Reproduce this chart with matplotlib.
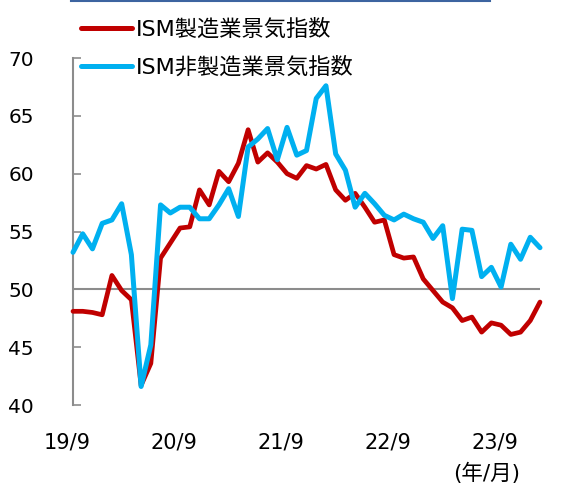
import matplotlib
matplotlib.use("Agg")
import matplotlib.pyplot as plt
from matplotlib.lines import Line2D

plt.rcParams['font.family'] = ['DejaVu Sans', 'Noto Sans CJK JP']

manufacturing = [48.1, 48.1, 48.0, 47.8, 51.2, 49.9, 49.1, 41.7, 43.6, 52.7,
                 54.0, 55.3, 55.4, 58.6, 57.3, 60.2, 59.3, 60.9, 63.8, 61.0,
                 61.8, 61.0, 60.0, 59.6, 60.7, 60.4, 60.8, 58.6, 57.7, 58.3,
                 57.1, 55.8, 56.0, 53.0, 52.7, 52.8, 50.9, 49.9, 48.9, 48.4,
                 47.3, 47.6, 46.3, 47.1, 46.9, 46.1, 46.3, 47.3, 48.9]
services = [53.2, 54.8, 53.5, 55.7, 56.0, 57.4, 53.0, 41.6, 45.2, 57.3,
            56.6, 57.1, 57.1, 56.1, 56.1, 57.3, 58.7, 56.3, 62.3, 63.0,
            63.9, 61.2, 64.0, 61.6, 62.0, 66.5, 67.6, 61.7, 60.3, 57.1,
            58.3, 57.4, 56.4, 56.0, 56.5, 56.1, 55.8, 54.4, 55.5, 49.2,
            55.2, 55.1, 51.1, 51.9, 50.2, 53.9, 52.6, 54.5, 53.6]
x_labels = ['19/9', '20/9', '21/9', '22/9', '23/9']
x_label_pos = [-0.62, 10.38, 21.38, 32.4, 43.4]
y_ticks = [40, 45, 50, 55, 60, 65, 70]
series_names = ['ISM製造業景気指数', 'ISM非製造業景気指数']

W, H = 569, 486
n = len(manufacturing)
step = (540 - 73) / (n - 1)
x_min = min(x_label_pos)
left_px = 73 + x_min * step
fig = plt.figure(figsize=(W / 100, H / 100), dpi=100)
ax = fig.add_axes([left_px / W, (H - 405) / H, (540 - left_px) / W, (405 - 58) / H])

idx = list(range(n))
ax.hlines(50, 0, n - 1, color='#8c8c8c', lw=1.5, zorder=1)
ax.plot(idx, manufacturing, color='#C00000', lw=3.4, solid_capstyle='round',
        solid_joinstyle='round', clip_on=False, zorder=3, label=series_names[0])
ax.plot(idx, services, color='#00B0F0', lw=3.6, solid_capstyle='round',
        solid_joinstyle='round', clip_on=False, zorder=4, label=series_names[1])

ax.set_yticks(y_ticks)
ax.set_xticks(x_label_pos)
ax.set_xticklabels(x_labels)
ax.set_xlim(x_min, n - 1)
ax.set_ylim(40, 70)

for s in ['top', 'right', 'bottom']:
    ax.spines[s].set_visible(False)
ax.spines['left'].set_position(('data', 0))
ax.spines['left'].set_color('#8c8c8c')
ax.spines['left'].set_linewidth(1.5)
ax.tick_params(axis='y', direction='in', length=6, width=1.2, color='#8c8c8c',
               labelsize=14.5, pad=28, labelcolor='#000000')
ax.tick_params(axis='x', length=0, labelsize=15, pad=20, labelcolor='#000000')
ax.patch.set_alpha(0)

leg = fig.legend(loc='upper left', bbox_to_anchor=(81 / W, 1 - 19 / H),
                 frameon=False, fontsize=16, handlelength=2.3,
                 handletextpad=0.15, labelspacing=0.75, borderpad=0,
                 borderaxespad=0)
for h in leg.get_lines():
    h.set_linewidth(3.6)
    h.set_solid_capstyle('round')

fig.text(520 / W, 1 - 473 / H, '(年/月)', ha='right', va='center', fontsize=15.5)

fig.add_artist(Line2D([71 / W, 490 / W], [1 - 0.8 / H, 1 - 0.8 / H],
                      color='#3C64A0', lw=1.5, transform=fig.transFigure))

fig.savefig('out.png', dpi=100)
